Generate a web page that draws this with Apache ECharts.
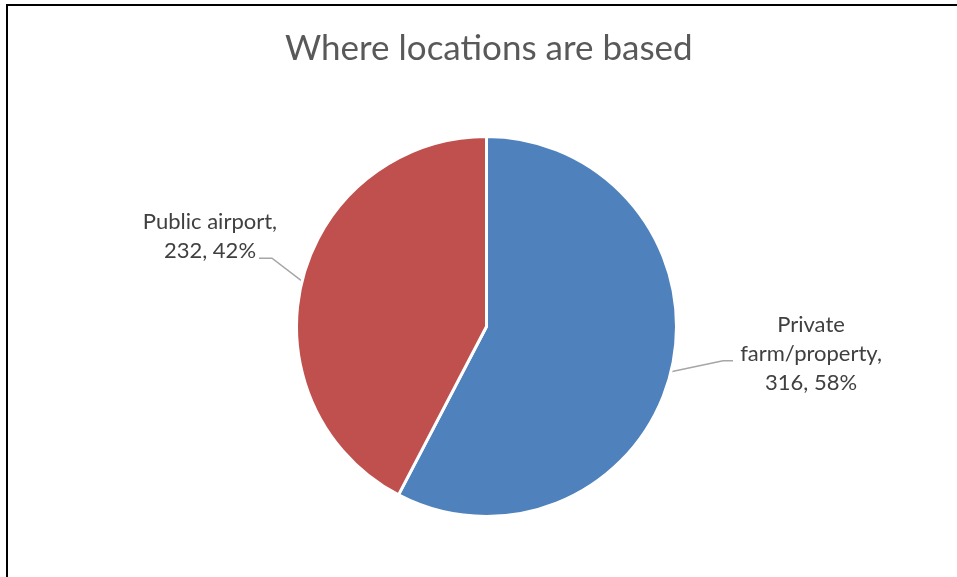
<!DOCTYPE html>
<html>
<head>
<meta charset="utf-8">
<title>Where locations are based</title>
<script src="https://cdn.jsdelivr.net/npm/echarts@6/dist/echarts.min.js"></script>
<style>
  html, body { margin: 0; padding: 0; background: #fff; }
  #main { width: 957px; height: 577px; }
</style>
</head>
<body>
<div id="main"></div>
<script>
// data
var categories = ['Private farm/property', 'Public airport'];
var labelNames = ['Private\nfarm/property', 'Public airport'];
var counts = [316, 232];
var colors = ['#4F81BD', '#C0504D'];

// where each label sits, relative to the point the library anchors its leader line on
var labelPlacement = [
  { dx: 140, dy: -18, bend: [52, -11], end: [62, -11] },
  { dx: -92, dy: -45, bend: [-30, -23], end: [-43, -23] }
];

var chartDom = document.getElementById('main');
var myChart = echarts.init(chartDom);
var option;

var pieData = [];
categories.forEach(function (name, i) {
  pieData.push({
    name: name,
    value: counts[i],
    itemStyle: { color: colors[i] }
  });
});

option = {
  backgroundColor: '#ffffff',
  animation: false,
  title: {
    text: 'Where locations are based',
    left: 280,
    top: 26,
    textStyle: {
      color: '#595959',
      fontFamily: 'Lato',
      fontWeight: 'normal',
      fontSize: 35
    }
  },
  graphic: [
    {
      type: 'polyline',
      shape: { points: [[7, 577], [7, 5], [957, 5]] },
      style: { stroke: '#000000', lineWidth: 2, fill: null },
      silent: true
    }
  ],
  series: [
    {
      name: 'Where locations are based',
      type: 'pie',
      center: [486.5, 326.5],
      radius: 190,
      startAngle: 90,
      clockwise: true,
      percentPrecision: 0,
      avoidLabelOverlap: false,
      itemStyle: {
        borderColor: '#ffffff',
        borderWidth: 3
      },
      label: {
        show: true,
        position: 'outside',
        formatter: function (p) {
          var lines = (labelNames[p.dataIndex] + ',\n' + p.value + ', ' + p.percent + '%').split('\n');
          return lines.map(function (s) { return '{t|' + s + '}'; }).join('\n');
        },
        rich: {
          t: {
            align: 'center',
            color: '#404040',
            fontFamily: 'Lato',
            fontSize: 22,
            lineHeight: 29
          }
        }
      },
      labelLine: {
        show: true,
        length: 20,
        length2: 10,
        lineStyle: { color: '#A6A6A6', width: 1.5 }
      },
      labelLayout: function (params) {
        var p = labelPlacement[params.dataIndex];
        var pts = params.labelLinePoints;
        if (!pts || !pts[0]) {
          return {};
        }
        var a = pts[0];
        return {
          x: a[0] + p.dx,
          y: a[1] + p.dy,
          align: 'center',
          verticalAlign: 'middle',
          labelLinePoints: [
            [a[0], a[1]],
            [a[0] + p.bend[0], a[1] + p.bend[1]],
            [a[0] + p.end[0], a[1] + p.end[1]]
          ]
        };
      },
      emphasis: { disabled: true },
      data: pieData
    }
  ]
};

myChart.setOption(option);
</script>
</body>
</html>
